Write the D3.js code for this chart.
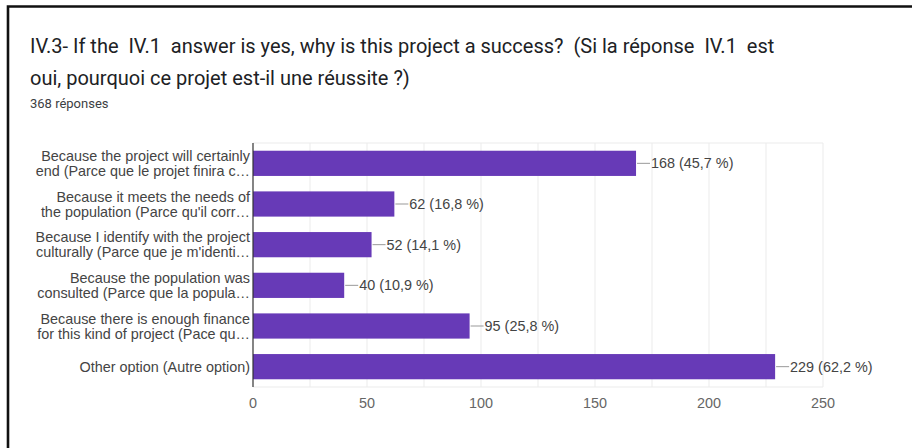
<!DOCTYPE html>
<html>
<head>
<meta charset="utf-8">
<script src="https://cdn.jsdelivr.net/npm/d3@7/dist/d3.min.js"></script>
<style>
  html, body { margin: 0; padding: 0; background: #fff; }
  svg { display: block; }
  text { white-space: pre; }
</style>
</head>
<body>
<svg id="chart" width="912" height="448"></svg>
<script>
// Survey question, answer options and counts
const titleLines = [
  "IV.3- If the  IV.1  answer is yes, why is this project a success?  (Si la réponse  IV.1  est",
  "oui, pourquoi ce projet est-il une réussite ?)"
];
const responsesLabel = "368 réponses";
const categories = [
  ["Because the project will certainly", "end (Parce que le projet finira c…"],
  ["Because it meets the needs of", "the population (Parce qu'il corr…"],
  ["Because I identify with the project", "culturally (Parce que je m'identi…"],
  ["Because the population was", "consulted (Parce que la popula…"],
  ["Because there is enough finance", "for this kind of project (Pace qu…"],
  ["Other option (Autre option)"]
];
const counts = [168, 62, 52, 40, 95, 229];
const percents = ["45,7", "16,8", "14,1", "10,9", "25,8", "62,2"];
const tickValues = [0, 50, 100, 150, 200, 250];
const gridValues = [25, 50, 75, 100, 125, 150, 175, 200, 225, 250];

const svg = d3.select("#chart");
const chartFont = "'Liberation Sans', Arial, sans-serif";
const titleFont = "Roboto, 'Noto Sans', sans-serif";

// Card frame
svg.append("path")
  .attr("d", "M8,448 L8,6.5 L912,6.5")
  .attr("fill", "none")
  .attr("stroke", "#111")
  .attr("stroke-width", 2.6);

// Title
svg.append("g").selectAll("text")
  .data(titleLines)
  .join("text")
  .attr("x", 30)
  .attr("y", (d, i) => 53 + i * 32)
  .attr("font-family", titleFont)
  .attr("font-size", 20)
  .attr("fill", "#202124")
  .text(d => d);

svg.append("text")
  .attr("x", 30)
  .attr("y", 108)
  .attr("font-family", titleFont)
  .attr("font-size", 13)
  .attr("fill", "#3c4043")
  .text(responsesLabel);

// Plot area
const plot = { left: 253, right: 823, top: 143, bottom: 387 };

const x = d3.scaleLinear().domain([0, 250]).range([plot.left, plot.right]);
const y = d3.scaleBand()
  .domain(d3.range(categories.length))
  .range([plot.top, plot.bottom])
  .paddingInner(0.38)
  .paddingOuter(0.19);

// Vertical gridlines
svg.append("g").selectAll("line")
  .data(gridValues)
  .join("line")
  .attr("x1", d => x(d)).attr("x2", d => x(d))
  .attr("y1", plot.top).attr("y2", plot.bottom)
  .attr("stroke", "#ebebeb")
  .attr("stroke-width", 1);

// Top and bottom frame of the plot area
svg.append("g").selectAll("line")
  .data([plot.top, plot.bottom])
  .join("line")
  .attr("x1", plot.left).attr("x2", plot.right)
  .attr("y1", d => d).attr("y2", d => d)
  .attr("stroke", "#ebebeb");

// Bars
svg.append("g").selectAll("rect")
  .data(counts)
  .join("rect")
  .attr("x", x(0))
  .attr("y", (d, i) => y(i))
  .attr("width", d => x(d) - x(0))
  .attr("height", y.bandwidth())
  .attr("fill", "#673ab7");

// Baseline axis
svg.append("line")
  .attr("x1", x(0)).attr("x2", x(0))
  .attr("y1", plot.top).attr("y2", plot.bottom)
  .attr("stroke", "#333")
  .attr("stroke-width", 1.2);

// Value labels with short leader lines
const valueG = svg.append("g");
counts.forEach((v, i) => {
  const cy = y(i) + y.bandwidth() / 2;
  valueG.append("line")
    .attr("x1", x(v) + 1).attr("x2", x(v) + 14)
    .attr("y1", cy).attr("y2", cy)
    .attr("stroke", "#999")
    .attr("stroke-width", 1);
  valueG.append("text")
    .attr("x", x(v) + 15)
    .attr("y", cy)
    .attr("dy", "0.35em")
    .attr("font-family", chartFont)
    .attr("font-size", 14.4)
    .attr("fill", "#444")
    .text(`${v} (${percents[i]} %)`);
});

// Category labels (right aligned, up to two lines)
const catG = svg.append("g");
categories.forEach((lines, i) => {
  const cy = y(i) + y.bandwidth() / 2;
  const lh = 15;
  lines.forEach((ln, j) => {
    catG.append("text")
      .attr("text-anchor", "end")
      .attr("font-family", chartFont)
      .attr("font-size", 14.4)
      .attr("fill", "#444")
      .attr("x", 250)
      .attr("y", cy + (j - (lines.length - 1) / 2) * lh)
      .attr("dy", "0.35em")
      .text(ln);
  });
});

// X axis tick labels
svg.append("g").selectAll("text")
  .data(tickValues)
  .join("text")
  .attr("x", d => x(d))
  .attr("y", 403)
  .attr("dy", "0.35em")
  .attr("text-anchor", "middle")
  .attr("font-family", chartFont)
  .attr("font-size", 14.4)
  .attr("fill", "#666")
  .text(d => d);
</script>
</body>
</html>
